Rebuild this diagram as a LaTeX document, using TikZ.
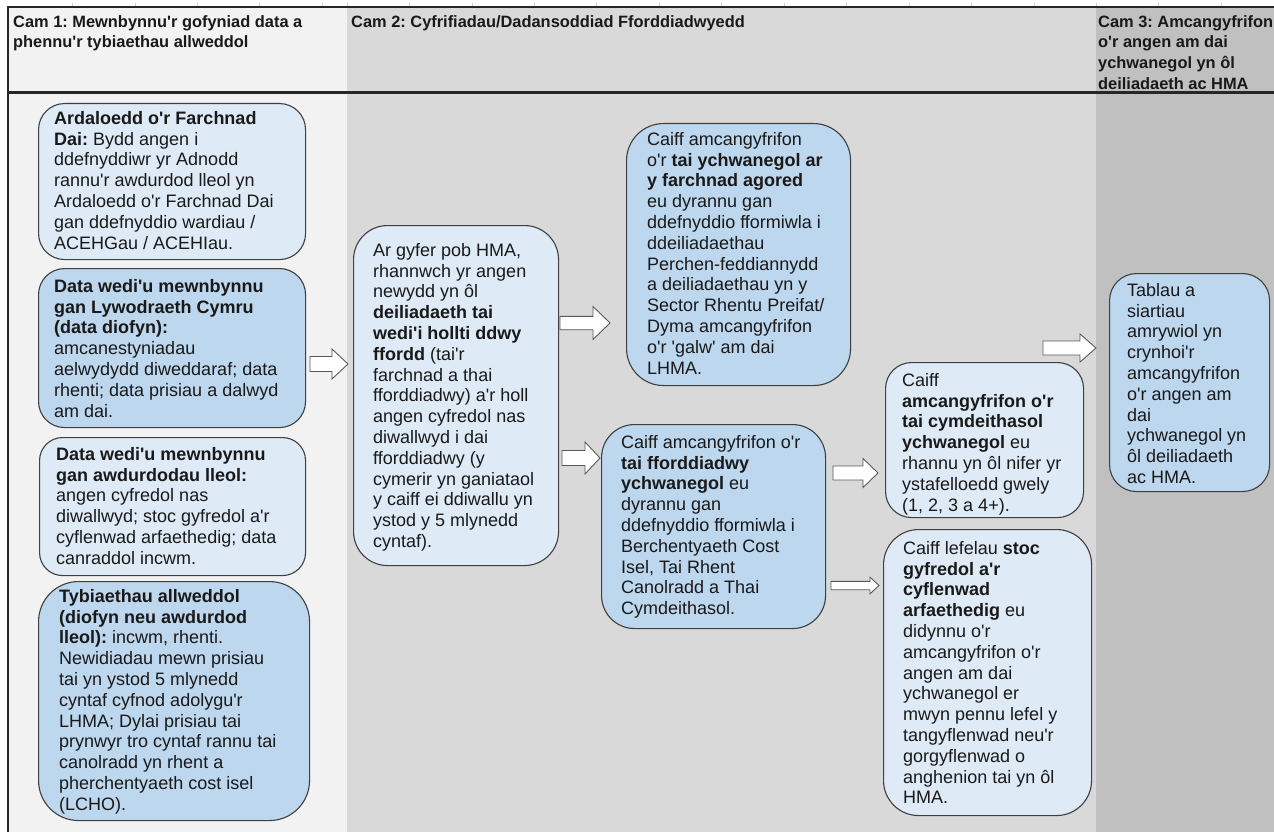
\documentclass[tikz,border=0pt]{standalone}
\usepackage{fontspec}
\setmainfont{Liberation Sans}[Ligatures=TeXOff]
\usetikzlibrary{positioning}

\definecolor{colone}{HTML}{F2F2F2}
\definecolor{coltwo}{HTML}{D9D9D9}
\definecolor{colthree}{HTML}{C0C0C0}
\definecolor{paleblue}{HTML}{DEEBF7}
\definecolor{midblue}{HTML}{BDD7EE}
\definecolor{edgegray}{HTML}{3F3F3F}
\definecolor{arrowgray}{HTML}{595959}

\newcommand\bodyfont{\fontsize{18}{20.8}\selectfont\frenchspacing}
\newcommand\headfont{\fontsize{16.4}{20.8}\selectfont\bfseries\frenchspacing}
% white block arrow from a named start: head start, tip, shaft half, head half
\newcommand\blockarrow[5]{%
  \draw[fatarrow, shift={(#1)}] (0,-#4) -- (#2,-#4) -- (#2,-#5) -- (#3,0)
    -- (#2,#5) -- (#2,#4) -- (0,#4) -- cycle;}

\begin{document}
\begin{tikzpicture}[x=1pt, y=-1pt,
    box/.style={draw=edgegray, line width=1.1pt, anchor=north west, inner sep=0pt},
    boxpale/.style={box, fill=paleblue},
    boxmid/.style={box, fill=midblue},
    txt/.style={font=\bodyfont, align=left, inner sep=0pt, text=black!90},
    headtxt/.style={font=\headfont, align=left, inner sep=0pt, anchor=north west, text=black!90},
    fatarrow/.style={draw=arrowgray, fill=white, line width=0.9pt, line join=miter}]
  \useasboundingbox (0,0) rectangle (1274,832);
  \fill[white] (0,0) rectangle (1274,832);
  % sheet grid ticks above the table
  \foreach \gx in {72.7,135,197.4,259.8,322.2}
    \draw[black!18, line width=0.8pt] (\gx,3) -- (\gx,7);
  \foreach \k in {0,...,14}
    \draw[black!18, line width=0.8pt] (347+62.45*\k,3) -- (347+62.45*\k,7);
  % the three stages
  \fill[colone] (8,8) rectangle (347,832);
  \fill[coltwo] (347,8) rectangle (1096,832);
  \fill[colthree] (1096,8) rectangle (1274,832);
  \draw[line width=2pt, black!85] (7,7.5) -- (1274,7.5);
  \draw[line width=2pt, black!85] (7.5,7) -- (7.5,832);
  \draw[line width=2.4pt, black!85] (7,92.5) -- (1274,92.5);

  \node[headtxt] (cam1) at (13,15) {Cam 1: Mewnbynnu'r gofyniad data a\\phennu'r tybiaethau allweddol};
  \node[headtxt] (cam2) at (351,15) {Cam 2: Cyfrifiadau/Dadansoddiad Fforddiadwyedd};
  \node[headtxt] (cam3) at (1098,15) {Cam 3: Amcangyfrifon\\o'r angen am dai\\ychwanegol yn ôl\\deiliadaeth ac HMA};

  % stage 1
  \node[boxpale, minimum width=267pt, minimum height=156pt, rounded corners=26pt] (ardal) at (38,103) {};
  \node[txt, below right=8pt and 16pt of ardal.north west] (ardal-t) {%
    \textbf{Ardaloedd o'r Farchnad}\\
    \textbf{Dai:} Bydd angen i\\
    ddefnyddiwr yr Adnodd\\
    rannu'r awdurdod lleol yn\\
    Ardaloedd o'r Farchnad Dai\\
    gan ddefnyddio wardiau /\\
    ACEHGau / ACEHIau.};
  \node[boxmid, minimum width=267pt, minimum height=159pt, rounded corners=26pt] (llyw) at (38,268) {};
  \node[txt, below right=11pt and 16pt of llyw.north west] (llyw-t) {%
    \textbf{Data wedi'u mewnbynnu}\\
    \textbf{gan Lywodraeth Cymru}\\
    \textbf{(data diofyn):}\\
    amcanestyniadau\\
    aelwydydd diweddaraf; data\\
    rhenti; data prisiau a dalwyd\\
    am dai.};
  \node[boxpale, minimum width=266pt, minimum height=138pt, rounded corners=23pt] (awdur) at (39,437) {};
  \node[txt, below right=10pt and 17pt of awdur.north west] (awdur-t) {%
    \textbf{Data wedi'u mewnbynnu}\\
    \textbf{gan awdurdodau lleol:}\\
    angen cyfredol nas\\
    diwallwyd; stoc gyfredol a'r\\
    cyflenwad arfaethedig; data\\
    canraddol incwm.};
  \node[boxmid, minimum width=271pt, minimum height=239pt, rounded corners=40pt] (tybiaeth) at (38,581) {};
  \node[txt, below right=8pt and 21pt of tybiaeth.north west] (tybiaeth-t) {%
    \textbf{Tybiaethau allweddol}\\
    \textbf{(diofyn neu awdurdod}\\
    \textbf{lleol):} incwm, rhenti.\\
    Newidiadau mewn prisiau\\
    tai yn ystod 5 mlynedd\\
    cyntaf cyfnod adolygu'r\\
    LHMA; Dylai prisiau tai\\
    prynwyr tro cyntaf rannu tai\\
    canolradd yn rhent a\\
    pherchentyaeth cost isel\\
    (LCHO).};

  % stage 2
  \node[boxpale, minimum width=205pt, minimum height=340pt, rounded corners=34pt] (rhannu) at (353,225) {};
  \node[txt, below right=18pt and 20pt of rhannu.north west] (rhannu-t) {%
    Ar gyfer pob HMA,\\
    rhannwch yr angen\\
    newydd yn ôl\\
    \textbf{deiliadaeth tai}\\
    \textbf{wedi'i hollti ddwy}\\
    \textbf{ffordd} (tai'r\\
    farchnad a thai\\
    fforddiadwy) a'r holl\\
    angen cyfredol nas\\
    diwallwyd i dai\\
    fforddiadwy (y\\
    cymerir yn ganiataol\\
    y caiff ei ddiwallu yn\\
    ystod y 5 mlynedd\\
    cyntaf).};
  \node[boxmid, minimum width=224pt, minimum height=262pt, rounded corners=37pt] (farchnad) at (626,123) {};
  \node[txt, below right=9pt and 21pt of farchnad.north west] (farchnad-t) {%
    Caiff amcangyfrifon\\
    o'r \textbf{tai ychwanegol ar}\\
    \textbf{y farchnad agored}\\
    eu dyrannu gan\\
    ddefnyddio fformiwla i\\
    ddeiliadaethau\\
    Perchen-feddiannydd\\
    a deiliadaethau yn y\\
    Sector Rhentu Preifat/\\
    Dyma amcangyfrifon\\
    o'r 'galw' am dai\\
    LHMA.};
  \node[boxmid, minimum width=224pt, minimum height=204pt, rounded corners=33pt] (fforddiadwy) at (601,424) {};
  \node[txt, below right=11pt and 20pt of fforddiadwy.north west] (fforddiadwy-t) {%
    Caiff amcangyfrifon o'r\\
    \textbf{tai fforddiadwy}\\
    \textbf{ychwanegol} eu\\
    dyrannu gan\\
    ddefnyddio fformiwla i\\
    Berchentyaeth Cost\\
    Isel, Tai Rhent\\
    Canolradd a Thai\\
    Cymdeithasol.};
  \node[boxpale, minimum width=198pt, minimum height=155pt, rounded corners=26pt] (cymdeithasol) at (885,362) {};
  \node[txt, below right=11pt and 17pt of cymdeithasol.north west] (cymdeithasol-t) {%
    Caiff\\
    \textbf{amcangyfrifon o'r}\\
    \textbf{tai cymdeithasol}\\
    \textbf{ychwanegol} eu\\
    rhannu yn ôl nifer yr\\
    ystafelloedd gwely\\
    (1, 2, 3 a 4+).};
  \node[boxpale, minimum width=208pt, minimum height=286pt, rounded corners=35pt] (stoc) at (883,529) {};
  \node[txt, below right=12pt and 20pt of stoc.north west] (stoc-t) {%
    Caiff lefelau \textbf{stoc}\\
    \textbf{gyfredol a'r}\\
    \textbf{cyflenwad}\\
    \textbf{arfaethedig} eu\\
    didynnu o'r\\
    amcangyfrifon o'r\\
    angen am dai\\
    ychwanegol er\\
    mwyn pennu lefel y\\
    tangyflenwad neu'r\\
    gorgyflenwad o\\
    anghenion tai yn ôl\\
    HMA.};

  % stage 3
  \node[boxmid, minimum width=160pt, minimum height=218pt, rounded corners=27pt] (tablau) at (1109,273) {};
  \node[txt, below right=10pt and 18pt of tablau.north west] (tablau-t) {%
    Tablau a\\
    siartiau\\
    amrywiol yn\\
    crynhoi'r\\
    amcangyfrifon\\
    o'r angen am\\
    dai\\
    ychwanegol yn\\
    ôl deiliadaeth\\
    ac HMA.};

  % arrows
  \coordinate (a1) at (310,364);
  \coordinate (a2) at (560,323);
  \coordinate (a3) at (562,458);
  \coordinate (a4) at (833,473);
  \coordinate (a5) at (831,585.5);
  \coordinate (a6) at (1043,348);
  \blockarrow{a1}{22}{38}{7.5}{15}
  \blockarrow{a2}{33}{50}{6.7}{16.5}
  \blockarrow{a3}{23}{38}{7.5}{16}
  \blockarrow{a4}{30}{45}{7}{14.5}
  \blockarrow{a5}{39}{48}{4.2}{8.3}
  \blockarrow{a6}{37}{53}{7}{14}
\end{tikzpicture}
\end{document}
